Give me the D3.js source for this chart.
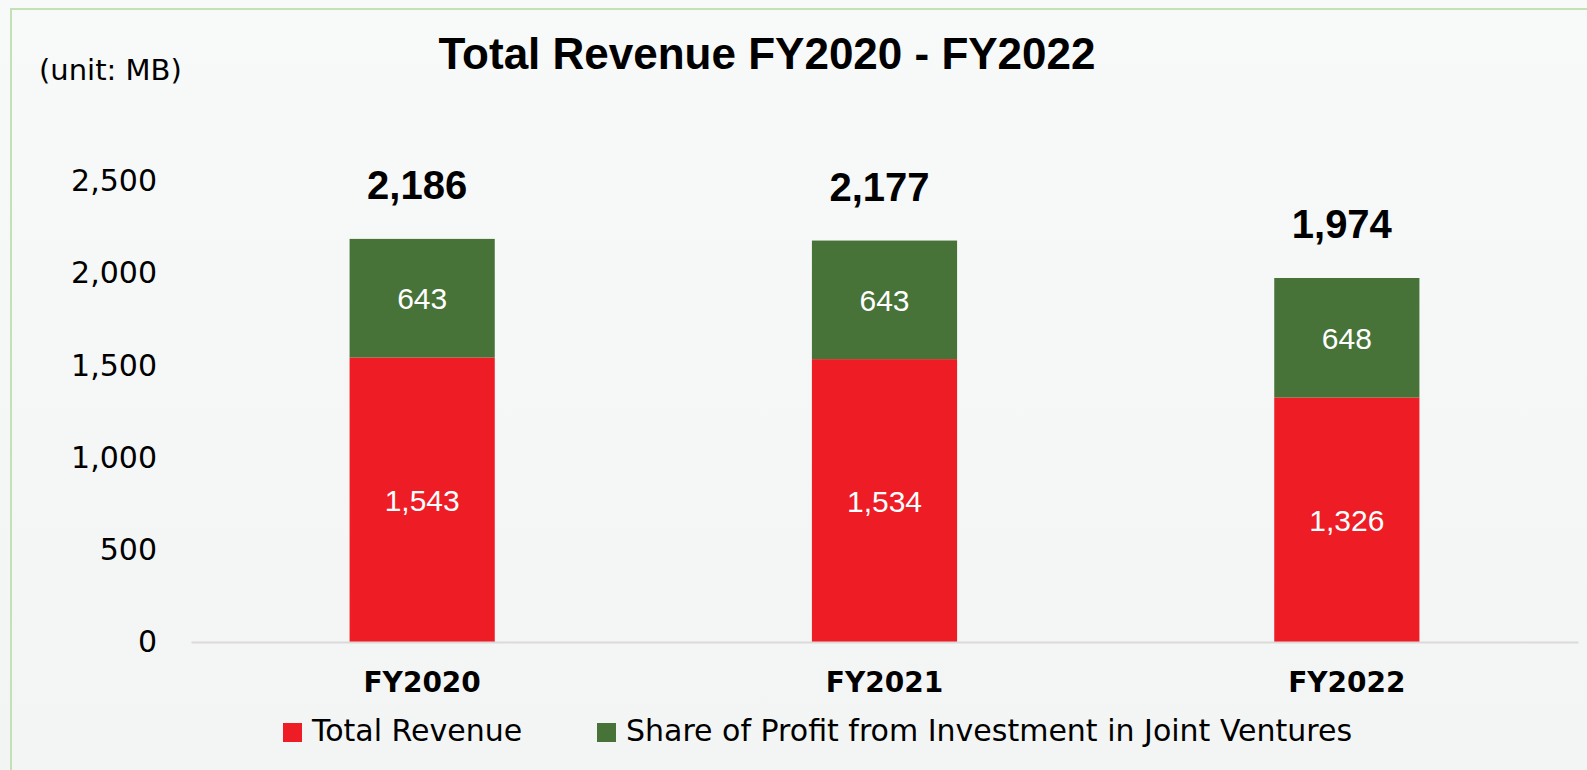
<!DOCTYPE html>
<html>
<head>
<meta charset="utf-8">
<script src="https://cdn.jsdelivr.net/npm/d3@7"></script>
<style>
  body { margin: 0; background: #f6f7f7; }
  svg { display: block; }
</style>
</head>
<body>
<svg class="revenueChart" width="1587" height="770"></svg>
<script>
// chart values
const years = ['FY2020', 'FY2021', 'FY2022'];
const totalRevenue = [1543, 1534, 1326];
const jvShare = [643, 643, 648];
const totals = [2186, 2177, 1974];
const yTicks = [0, 500, 1000, 1500, 2000, 2500];
const seriesNames = ['Total Revenue', 'Share of Profit from Investment in Joint Ventures'];
const seriesColors = ['#ee1c25', '#477338'];

const svg = d3.select('.revenueChart');
const width = 1587;
const height = 770;

// background with gradient and green frame
const defs = svg.append('defs');
const grad = defs.append('linearGradient')
    .attr('id', 'bg')
    .attr('x1', 0).attr('y1', 0).attr('x2', 0).attr('y2', 1);
grad.append('stop').attr('offset', '0%').attr('stop-color', '#f8f9f9');
grad.append('stop').attr('offset', '100%').attr('stop-color', '#f3f5f4');

svg.append('rect')
    .attr('width', width)
    .attr('height', height)
    .attr('fill', 'url(#bg)');

svg.append('rect')
    .attr('x', 11)
    .attr('y', 9)
    .attr('width', width + 20)
    .attr('height', height + 20)
    .attr('fill', 'none')
    .attr('stroke', '#c5e0b4')
    .attr('stroke-width', 2);

// scales
const x = d3.scaleBand()
    .domain(years)
    .range([191, 1578])
    .paddingInner(0.686)
    .paddingOuter(0.343);

const y = d3.scaleLinear()
    .domain([0, 2500])
    .range([642, 181]);

// stacked data
const rows = years.map((yr, i) => ({ year: yr, rev: totalRevenue[i], jv: jvShare[i] }));
const stacked = d3.stack().keys(['rev', 'jv'])(rows);

// y axis labels
const yAxis = svg.append('g')
    .attr('transform', 'translate(157,0)')
    .call(d3.axisLeft(y).tickValues(yTicks).tickFormat(d3.format(',')).tickSize(0).tickPadding(0));
yAxis.select('.domain').remove();
yAxis.selectAll('text')
    .attr('font-family', 'DejaVu Sans')
    .attr('font-size', 30)
    .attr('fill', '#000');

// bars
stacked.forEach((layer, li) => {
    svg.append('g')
        .selectAll('rect')
        .data(layer)
        .join('rect')
        .attr('x', d => x(d.data.year))
        .attr('y', d => y(d[1]))
        .attr('width', x.bandwidth())
        .attr('height', d => y(d[0]) - y(d[1]))
        .attr('fill', seriesColors[li]);

    svg.append('g')
        .selectAll('text')
        .data(layer)
        .join('text')
        .attr('x', d => x(d.data.year) + x.bandwidth() / 2)
        .attr('y', d => (y(d[0]) + y(d[1])) / 2 + 11)
        .attr('text-anchor', 'middle')
        .attr('font-family', 'Liberation Sans, Arial')
        .attr('font-size', 30)
        .attr('fill', '#fff')
        .text(d => d3.format(',')(d[1] - d[0]));
});

// x axis
const xAxis = svg.append('g')
    .attr('transform', 'translate(0,642)')
    .call(d3.axisBottom(x).tickSize(0).tickSizeOuter(0));
xAxis.select('.domain')
    .attr('stroke', '#d9d9d9')
    .attr('stroke-width', 2);
xAxis.selectAll('text')
    .attr('y', 50)
    .attr('dy', 0)
    .attr('font-family', 'DejaVu Sans')
    .attr('font-weight', 'bold')
    .attr('font-size', 28)
    .attr('fill', '#000');

// total labels above bars
svg.append('g')
    .selectAll('text')
    .data(totals)
    .join('text')
    .attr('x', (d, i) => x(years[i]) + x.bandwidth() / 2 - 5)
    .attr('y', d => y(d) - 40)
    .attr('text-anchor', 'middle')
    .attr('font-family', 'Liberation Sans, Arial')
    .attr('font-weight', 'bold')
    .attr('font-size', 40)
    .attr('fill', '#000')
    .text(d => d3.format(',')(d));

// title and unit
svg.append('text')
    .attr('x', 767)
    .attr('y', 69)
    .attr('text-anchor', 'middle')
    .attr('font-family', 'Liberation Sans, Arial')
    .attr('font-weight', 'bold')
    .attr('font-size', 44)
    .attr('fill', '#000')
    .text('Total Revenue FY2020 - FY2022');

svg.append('text')
    .attr('x', 39)
    .attr('y', 80)
    .attr('font-family', 'DejaVu Sans')
    .attr('font-size', 29)
    .attr('fill', '#000')
    .text('(unit: MB)');

// legend
const legendX = [283, 597];
const legend = svg.append('g')
    .selectAll('g')
    .data(seriesNames)
    .join('g')
    .attr('transform', (d, i) => `translate(${legendX[i]},723)`);
legend.append('rect')
    .attr('width', 19)
    .attr('height', 19)
    .attr('fill', (d, i) => seriesColors[i]);
legend.append('text')
    .attr('x', 29)
    .attr('y', 18)
    .attr('font-family', 'DejaVu Sans')
    .attr('font-size', 30)
    .attr('fill', '#000')
    .text(d => d);
</script>
</body>
</html>
